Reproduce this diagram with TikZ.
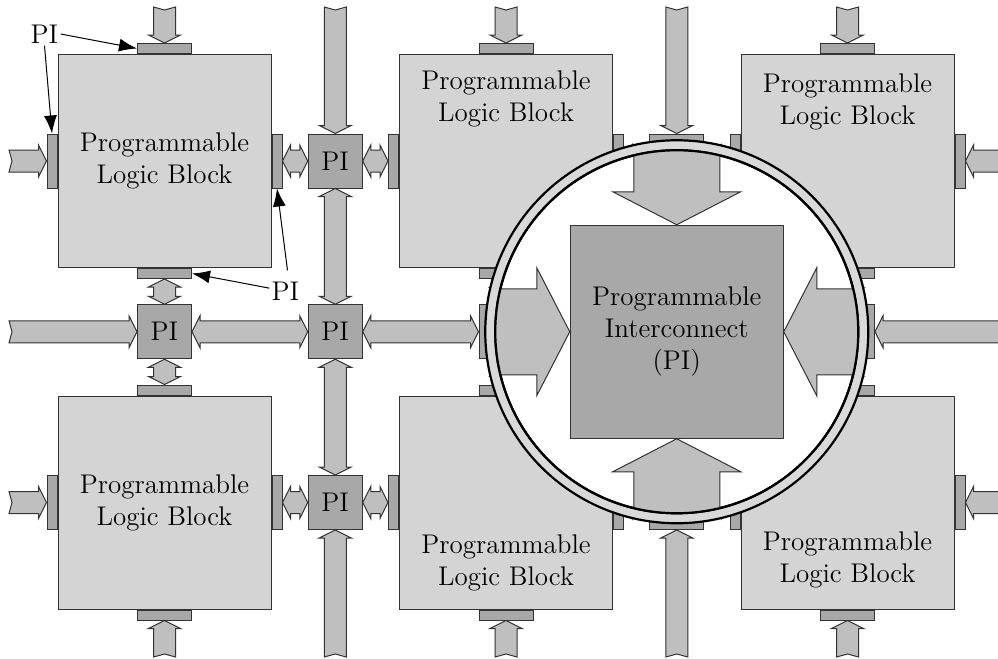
\documentclass[tikz,border=0pt]{standalone}
\usetikzlibrary{calc,arrows.meta}
\definecolor{plbgray}{gray}{0.83}
\definecolor{arrgray}{gray}{0.75}
\definecolor{pigray}{gray}{0.66}
\definecolor{ringgray}{gray}{0.85}
\definecolor{edgegray}{gray}{0.2}
\tikzset{
  txt/.style={font=\fontsize{13.5}{16}\selectfont, align=center},
  plb/.style={draw=edgegray, fill=plbgray, line width=0.5pt, minimum size=106.5pt, inner sep=0pt},
  plbtext/.style={txt, inner sep=0pt},
  pinode/.style={draw=edgegray, fill=pigray, line width=0.5pt, minimum size=27pt, inner sep=0pt, txt},
  padh/.style={draw=edgegray, fill=pigray, line width=0.5pt, minimum width=27pt, minimum height=5pt, inner sep=0pt},
  padv/.style={padh, minimum width=5pt, minimum height=27pt},
  arrstyle/.style={draw=edgegray, fill=arrgray, line width=0.5pt},
  bigpi/.style={draw=edgegray, fill=pigray, line width=0.5pt, minimum size=106.5pt, inner sep=0pt, txt},
  ring/.style={draw=black, line width=1.1pt},
  note/.style={draw=black, line width=0.5pt, -{Latex[length=9pt,width=6.5pt]}},
  notelabel/.style={txt, inner sep=1pt},
}
% #1 tail, #2 tip, #3 head length, #4 body half width, #5 head half width, #6 notch depth
\newcommand\arrowpoly[6]{%
  \coordinate (hb) at ($(#2)!#3!(#1)$);
  \coordinate (nt) at ($(#1)!#6!(#2)$);
  \filldraw[arrstyle] (#2) -- ($(hb)!#5!90:(#1)$) -- ($(hb)!#4!90:(#1)$)
    -- ($(#1)!#4!-90:(#2)$) -- (nt) -- ($(#1)!#4!90:(#2)$)
    -- ($(hb)!#4!-90:(#1)$) -- ($(hb)!#5!-90:(#1)$) -- cycle;
}
\newcommand\sarr[2]{\arrowpoly{#1}{#2}{4pt}{5.5pt}{8pt}{1.5pt}}
\newcommand\bigarr[2]{\arrowpoly{#1}{#2}{16.5pt}{21.5pt}{32pt}{0pt}}
\newcommand\dblarr[2]{%
  \coordinate (ha) at ($(#1)!4pt!(#2)$);
  \coordinate (hb) at ($(#2)!4pt!(#1)$);
  \filldraw[arrstyle] (#1) -- ($(ha)!8pt!90:(#2)$) -- ($(ha)!5.5pt!90:(#2)$)
    -- ($(hb)!5.5pt!-90:(#1)$) -- ($(hb)!8pt!-90:(#1)$) -- (#2)
    -- ($(hb)!8pt!90:(#1)$) -- ($(hb)!5.5pt!90:(#1)$)
    -- ($(ha)!5.5pt!-90:(#2)$) -- ($(ha)!8pt!-90:(#2)$) -- cycle;
}
\begin{document}
\begin{tikzpicture}[x=0.5pt,y=-0.5pt]
\useasboundingbox (0,0) rectangle (998,659);
\clip (0,0) rectangle (998,659);

% logic blocks
\node[plb] (pA) at (164.5,161) {};
\node[plb] (pB) at (506,161) {};
\node[plb] (pC) at (847.5,161) {};
\node[plb] (pD) at (164.5,502.5) {};
\node[plb] (pE) at (506,502.5) {};
\node[plb] (pF) at (847.5,502.5) {};
\foreach \nm in {pA,pB,pC,pD,pE,pF}{
  \node[padh, anchor=south] (\nm-n) at (\nm.north) {};
  \node[padh, anchor=north] (\nm-s) at (\nm.south) {};
  \node[padv, anchor=east] (\nm-w) at (\nm.west) {};
  \node[padv, anchor=west] (\nm-e) at (\nm.east) {};
}
\node[plbtext] (tA) at (164.5,161) {Programmable\\Logic Block};
\node[plbtext] (tB) at (506,99) {Programmable\\Logic Block};
\node[plbtext] (tC) at (847.5,101.5) {Programmable\\Logic Block};
\node[plbtext] (tD) at (164.5,502.5) {Programmable\\Logic Block};
\node[plbtext] (tE) at (506,563) {Programmable\\Logic Block};
\node[plbtext] (tF) at (847.5,560) {Programmable\\Logic Block};

% interconnect nodes
\node[pinode] (q10) at (335.25,161) {PI};
\node[pinode] (q30) at (676.75,161) {};
\node[pinode] (q01) at (164.5,331.75) {PI};
\node[pinode] (q11) at (335.25,331.75) {PI};
\node[pinode] (q21) at (506,331.75) {};
\node[pinode] (q31) at (676.75,331.75) {};
\node[pinode] (q41) at (847.5,331.75) {};
\node[pinode] (q12) at (335.25,502.5) {PI};
\node[pinode] (q32) at (676.75,502.5) {};

% free ends
\coordinate (L0) at (9,161);
\coordinate (L1) at (9,331.75);
\coordinate (L2) at (9,502.5);
\coordinate (R0) at (1003,161);
\coordinate (R1) at (1003,331.75);
\coordinate (R2) at (1003,502.5);
\coordinate (T0) at (164.5,7);
\coordinate (T1) at (335.25,7);
\coordinate (T2) at (506,7);
\coordinate (T3) at (676.75,7);
\coordinate (T4) at (847.5,7);
\coordinate (B0) at (164.5,657);
\coordinate (B1) at (335.25,657);
\coordinate (B2) at (506,657);
\coordinate (B3) at (676.75,657);
\coordinate (B4) at (847.5,657);

% row 0
\sarr{L0}{pA-w.west}
\dblarr{pA-e.east}{q10.west}
\dblarr{q10.east}{pB-w.west}
\dblarr{pB-e.east}{q30.west}
\dblarr{q30.east}{pC-w.west}
\sarr{R0}{pC-e.east}
% row 1
\sarr{L1}{q01.west}
\dblarr{q01.east}{q11.west}
\dblarr{q11.east}{q21.west}
\dblarr{q21.east}{q31.west}
\dblarr{q31.east}{q41.west}
\sarr{R1}{q41.east}
% row 2
\sarr{L2}{pD-w.west}
\dblarr{pD-e.east}{q12.west}
\dblarr{q12.east}{pE-w.west}
\dblarr{pE-e.east}{q32.west}
\dblarr{q32.east}{pF-w.west}
\sarr{R2}{pF-e.east}
% column 0
\sarr{T0}{pA-n.north}
\dblarr{pA-s.south}{q01.north}
\dblarr{q01.south}{pD-n.north}
\sarr{B0}{pD-s.south}
% column 1
\sarr{T1}{q10.north}
\dblarr{q10.south}{q11.north}
\dblarr{q11.south}{q12.north}
\sarr{B1}{q12.south}
% column 2
\sarr{T2}{pB-n.north}
\dblarr{pB-s.south}{q21.north}
\dblarr{q21.south}{pE-n.north}
\sarr{B2}{pE-s.south}
% column 3
\sarr{T3}{q30.north}
\dblarr{q30.south}{q31.north}
\dblarr{q31.south}{q32.north}
\sarr{B3}{q32.south}
% column 4
\sarr{T4}{pC-n.north}
\dblarr{pC-s.south}{q41.north}
\dblarr{q41.south}{pF-n.north}
\sarr{B4}{pF-s.south}

% magnifier
\filldraw[ring, fill=ringgray] (q31.center) circle[radius=95.75pt];
\filldraw[ring, fill=white] (q31.center) circle[radius=90.75pt];
\begin{scope}
  \clip (q31.center) circle[radius=90.75pt];
  \coordinate (bN) at (676.75,120);
  \coordinate (bS) at (676.75,545);
  \coordinate (bW) at (460,331.75);
  \coordinate (bE) at (895,331.75);
  \node[bigpi] (big) at (q31.center) {Programmable\\Interconnect\\(PI)};
  \bigarr{bN}{big.north}
  \bigarr{bS}{big.south}
  \bigarr{bW}{big.west}
  \bigarr{bE}{big.east}
\end{scope}
\draw[ring] (q31.center) circle[radius=90.75pt];

% annotations
\node[notelabel] (l1) at (44.5,34) {PI};
\node[notelabel] (l2) at (285.5,291) {PI};
\draw[note] (l1.east) -- (pA-n.west);
\draw[note] (l1.south) -- (pA-w.north);
\draw[note] (l2.170) -- (pA-s.east);
\draw[note] ([xshift=1pt,yshift=4.5pt]l2.north) -- (pA-e.south);
\end{tikzpicture}
\end{document}
